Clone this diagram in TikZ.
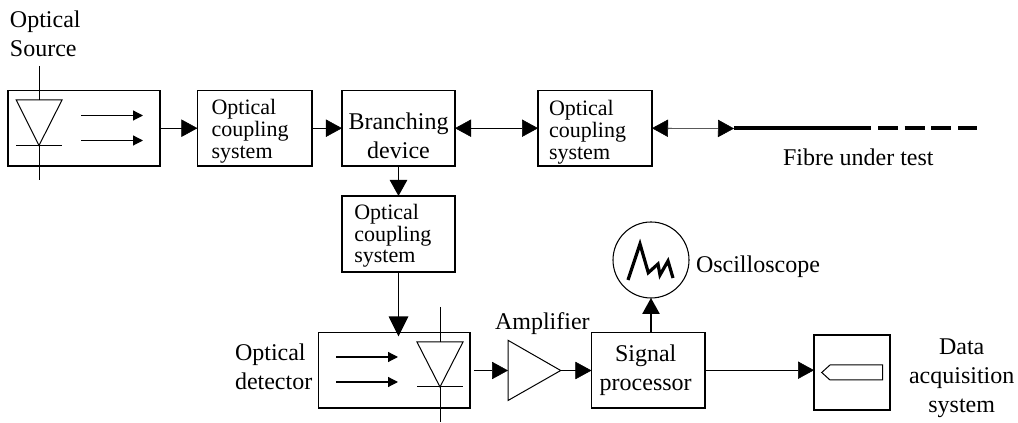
\documentclass[tikz,border=0pt]{standalone}
\usepackage{fontspec}
\setmainfont{Liberation Serif}
\usetikzlibrary{arrows.meta}
\tikzset{
  x=0.75pt,y=-0.75pt,
  line width=0.9pt,
  blockbox/.style={draw,inner sep=0pt,outer sep=0pt,line width=1pt},
  bigtext/.style={inner sep=0pt,outer sep=0pt,font=\fontsize{18}{21.75}\selectfont},
  smalltext/.style={inner sep=0pt,outer sep=0pt,align=left,font=\fontsize{16.5}{16.3}\selectfont},
  conn/.style={-{Triangle[length=12pt,width=13pt]}},
  vconn/.style={-{Triangle[length=12pt,width=13pt]},line width=1.15pt},
  bigconn/.style={-{Triangle[length=15pt,width=14.5pt]},line width=1.3pt},
  biconn/.style={{Triangle[length=12pt,width=13pt]}-{Triangle[length=12pt,width=13pt]}},
  lightray/.style={-{Triangle[length=7.5pt,width=7.5pt]},line width=0.9pt},
  finepart/.style={line width=0.75pt},
  fibre/.style={line width=3pt}
}
\begin{document}
\begin{tikzpicture}
\useasboundingbox (0,0) rectangle (1018,423);
% blocks
\node[blockbox,minimum width=114.0pt,minimum height=56.7pt] (src) at (84,128.2) {};
\node[blockbox,minimum width=85.9pt,minimum height=56.7pt] (oc1) at (254.7,128.2) {};
\node[blockbox,minimum width=84.8pt,minimum height=56.7pt] (br) at (398.5,128.2) {};
\node[blockbox,minimum width=85.5pt,minimum height=56.7pt] (oc2) at (595,128.2) {};
\node[blockbox,minimum width=84.8pt,minimum height=57pt] (oc3) at (398.5,234) {};
\node[blockbox,minimum width=113.6pt,minimum height=56.6pt] (det) at (394.2,370.2) {};
\node[blockbox,minimum width=85.1pt,minimum height=56.6pt] (sig) at (648.2,370.2) {};
\node[blockbox,minimum width=57pt,minimum height=56.3pt] (daq) at (852,372.5) {};
\node[draw,circle,inner sep=0pt,outer sep=0pt,minimum size=57pt,line width=0.8pt] (scope) at (651,260) {};
% source diode
\coordinate (s1) at (39,66); \coordinate (s2) at (39,180);
\draw[finepart] (s1) -- (39,100);
\draw[finepart] (16.3,100) -- (62,100) -- (39,145.5) -- cycle;
\draw[finepart] (16,145.5) -- (62,145.5);
\draw[finepart] (39,145.5) -- (s2);
\draw[lightray] (81,115.5) -- (143,115.5);
\draw[lightray] (81,140.5) -- (143,140.5);
% detector diode
\draw[finepart] (440,307) -- (440,342);
\draw[finepart] (417,342) -- (463,342) -- (440,387) -- cycle;
\draw[finepart] (417,387) -- (463,387);
\draw[finepart] (440,387) -- (440,422);
\draw[lightray] (336,357) -- (398,357);
\draw[lightray] (336,382) -- (398,382);
% amplifier
\coordinate (ampin) at (508,370.5);
\coordinate (amptip) at (560.7,370.5);
\draw[finepart] (508,340.3) -- (amptip) -- (508,400.5) -- cycle;
% waveform
\draw[line width=2.4pt,miter limit=10] (628,280) -- (640,244) -- (648.3,272.7) -- (658,264) -- (660,275) -- (668,261) -- (673,278);
% data acquisition inner
\draw[finepart] (821.7,372.5) -- (830,365) -- (882.7,365) -- (882.7,380) -- (830,380) -- cycle;
% connectors
\draw[conn] (src.east) -- (oc1.west);
\draw[conn] (oc1.east) -- (br.west);
\draw[biconn] (br.east) -- (oc2.west);
\coordinate (fstart) at (734,128.5);
\coordinate (fsolid) at (871,128.5);
\coordinate (fend) at (977,128.5);
\draw[biconn] (oc2.east) -- (fstart);
\draw[fibre] (fstart) -- (fsolid);
\draw[fibre,dash pattern=on 15pt off 5pt] (878,128.5) -- (fend);
\draw[vconn] (br.south) -- (oc3.north);
\draw[bigconn,shorten >=-3pt] (oc3.south) -- (oc3.south |- det.north);
\draw[conn,shorten <=3pt] (det.east |- ampin) -- (ampin);
\draw[conn] (amptip) -- (sig.west |- amptip);
\draw[vconn] (scope.south |- sig.north) -- (scope.south);
\draw[conn] (sig.east) -- (daq.west |- sig.east);
% labels
\node[bigtext,align=left,anchor=west] (lsrc) at (10,33.5) {Optical\\Source};
\node[smalltext,anchor=west] (t1) at (211.5,131.3) {Optical\\coupling\\system};
\node[smalltext,anchor=west] (t2) at (549,132.3) {Optical\\coupling\\system};
\node[smalltext,anchor=west] (t3) at (354.3,235.8) {Optical\\coupling\\system};
\node[bigtext,align=center] (t4) at (398.5,135.8) {Branching\\device};
\node[bigtext,align=left,anchor=west] (ldet) at (235,367) {Optical\\detector};
\node[bigtext,anchor=base west] (lamp) at (495,330) {Amplifier};
\node[bigtext,align=center] (t5) at (645.7,370) {Signal\\processor};
\node[bigtext,anchor=base west] (lscope) at (696,272.7) {Oscilloscope};
\node[bigtext,anchor=base west] (lfib) at (783,165.5) {Fibre under test};
\node[bigtext,align=center] (ldaq) at (961.7,378) {Data\\acquisition\\system};
\end{tikzpicture}
\end{document}
